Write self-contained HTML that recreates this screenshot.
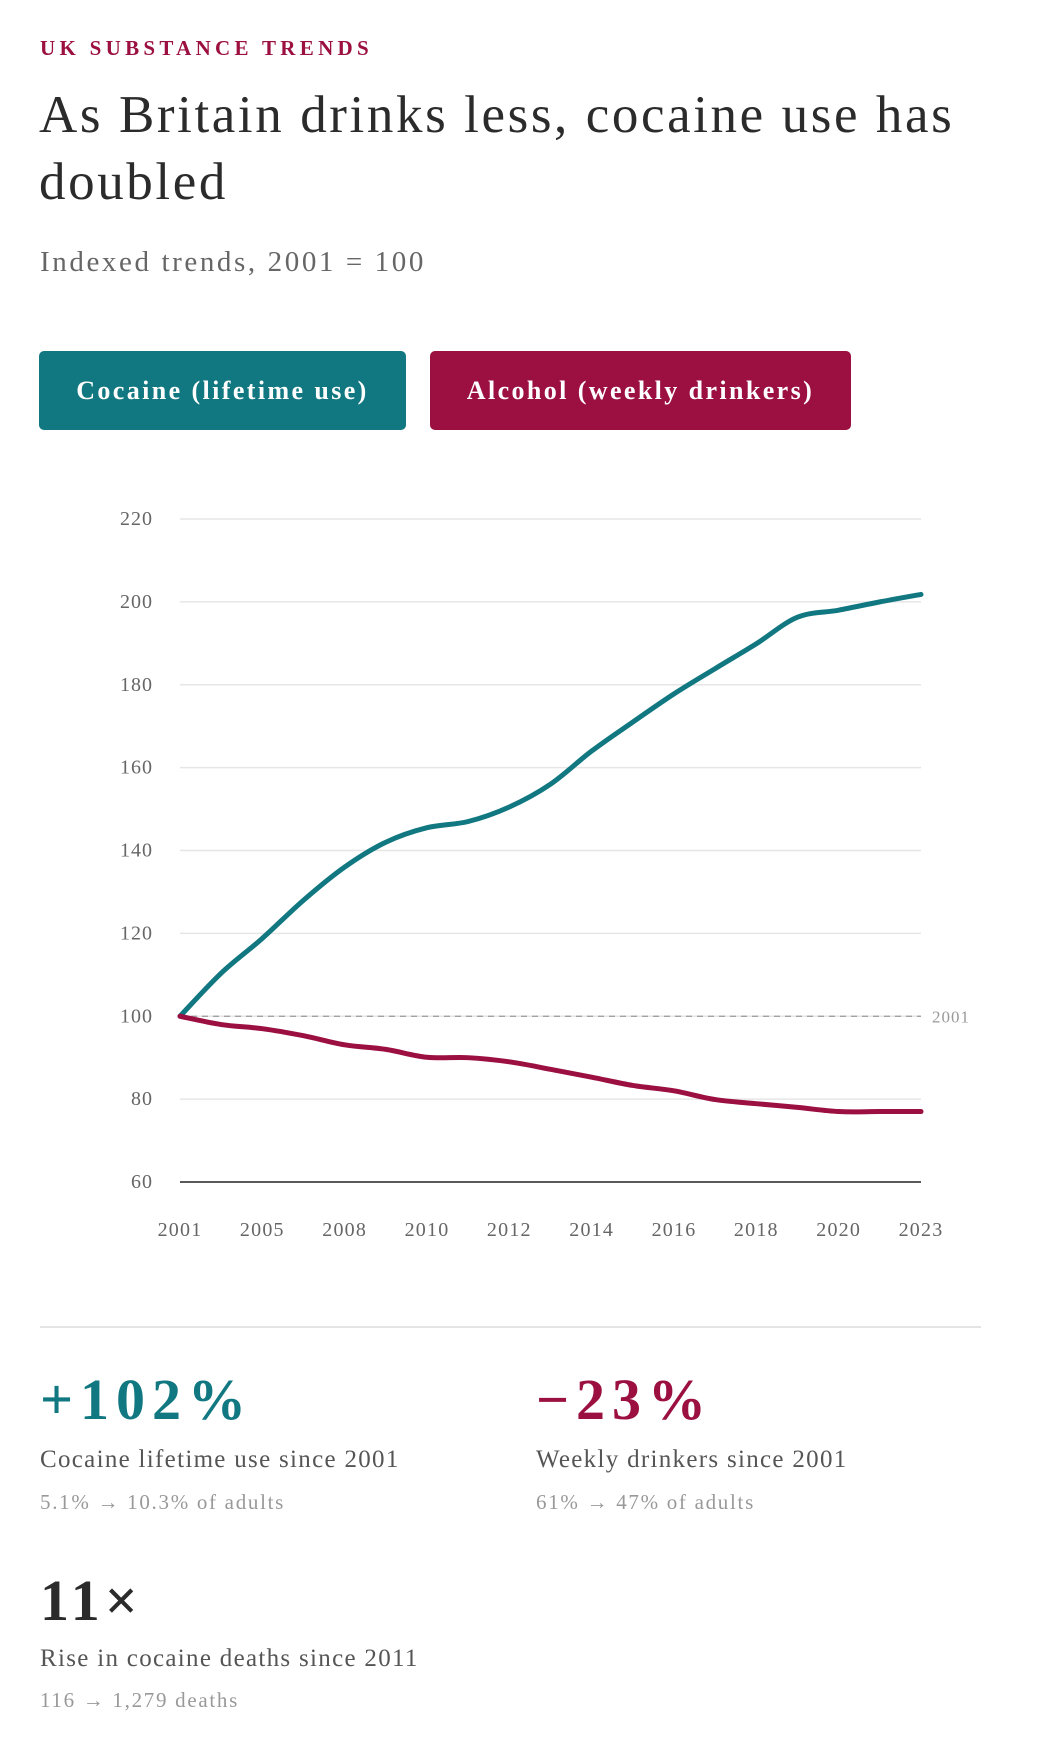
<!DOCTYPE html>
<html><head><meta charset="utf-8"><style>
body{margin:0;background:#fff;width:1052px;height:1744px;overflow:hidden;font-family:"Liberation Serif",serif;position:relative}
.a{position:absolute;white-space:nowrap}
</style></head><body>
<div class="a" style="left:40px;top:36px;font-size:21px;font-weight:bold;letter-spacing:4.3px;color:#9b1040">UK SUBSTANCE TRENDS</div>
<div class="a" style="left:39px;top:82px;font-size:53px;line-height:67px;letter-spacing:2.6px;color:#2b2b2b;white-space:normal;width:1000px">As Britain drinks less, cocaine use has doubled</div>
<div class="a" style="left:40px;top:246px;font-size:29px;letter-spacing:2.6px;color:#666">Indexed trends, 2001 = 100</div>
<div class="a" style="left:39px;top:351px;width:367px;height:79px;background:#117780;border-radius:5px;color:#fff;font-weight:bold;font-size:26px;letter-spacing:2.4px;line-height:79px;text-align:center">Cocaine (lifetime use)</div>
<div class="a" style="left:430px;top:351px;width:421px;height:79px;background:#9b1040;border-radius:5px;color:#fff;font-weight:bold;font-size:26px;letter-spacing:2.4px;line-height:79px;text-align:center">Alcohol (weekly drinkers)</div>
<svg class="a" style="left:0;top:0" width="1052" height="1290" id="chart"></svg>
<div class="a" style="left:40px;top:1326px;width:941px;height:2px;background:#e4e4e4"></div>
<div class="a" style="left:40px;top:1366px;font-size:58px;font-weight:bold;letter-spacing:7px;color:#117780">+102%</div>
<div class="a" style="left:40px;top:1446px;font-size:25px;letter-spacing:1.3px;color:#555">Cocaine lifetime use since 2001</div>
<div class="a" style="left:40px;top:1490px;font-size:21px;letter-spacing:1.7px;color:#999">5.1% → 10.3% of adults</div>
<div class="a" style="left:536px;top:1366px;font-size:58px;font-weight:bold;letter-spacing:7px;color:#9b1040">−23%</div>
<div class="a" style="left:536px;top:1446px;font-size:25px;letter-spacing:1.3px;color:#555">Weekly drinkers since 2001</div>
<div class="a" style="left:536px;top:1490px;font-size:21px;letter-spacing:1.7px;color:#999">61% → 47% of adults</div>
<div class="a" style="left:40px;top:1567px;font-size:58px;font-weight:bold;letter-spacing:5px;color:#2b2b2b">11×</div>
<div class="a" style="left:40px;top:1645px;font-size:25px;letter-spacing:1.3px;color:#555">Rise in cocaine deaths since 2011</div>
<div class="a" style="left:40px;top:1688px;font-size:21px;letter-spacing:1.7px;color:#999">116 → 1,279 deaths</div>
<script>
const years=["2001","2003","2005","2007","2008","2009","2010","2011","2012","2013","2014","2015","2016","2017","2018","2019","2020","2022","2023"];
const tickYears=["2001","2005","2008","2010","2012","2014","2016","2018","2020","2023"];
const yTicks=[60,80,100,120,140,160,180,200,220];
const cocaine=[100,110.4,118.8,128,136,142,145.5,147,150.5,156,164,171,177.8,183.9,189.9,196.3,198,200,201.8];
const alcohol=[100,98,97,95.3,93.1,92,90.1,90,89,87.2,85.3,83.3,82,79.9,78.9,78,77,77,77];
const NS="http://www.w3.org/2000/svg",svg=document.getElementById('chart');
const X0=180,X1=921,Y0=1182,Y1=519,VMIN=60,VMAX=220;
function xs(i){return X0+(X1-X0)*i/(years.length-1);}
function ys(v){return Y0-(v-VMIN)/(VMAX-VMIN)*(Y0-Y1);}
function mk(t,a){const e=document.createElementNS(NS,t);for(const k in a)e.setAttribute(k,a[k]);svg.appendChild(e);return e;}
yTicks.forEach(v=>{
const l=mk('line',{x1:X0,x2:X1,y1:ys(v),y2:ys(v),stroke:v===60?'#222':'#e6e6e6','stroke-width':1.5});


const t=mk('text',{x:153,y:ys(v)+6,'text-anchor':'end','font-size':20,'letter-spacing':1,fill:'#666','font-family':'Liberation Serif, serif'});
t.textContent=v;


});
tickYears.forEach(y=>{
const i=years.indexOf(y);
const t=mk('text',{x:xs(i),y:1236,'text-anchor':'middle','font-size':20,'letter-spacing':1.2,fill:'#666','font-family':'Liberation Serif, serif'});
t.textContent=y;


});
const bl=mk('line',{x1:X0,x2:X1,y1:ys(100),y2:ys(100),stroke:'#999','stroke-width':1.3,'stroke-dasharray':'6,5'});


const bt=mk('text',{x:932,y:ys(100)+6,'font-size':17,'letter-spacing':1,fill:'#999','font-family':'Liberation Serif, serif'});
bt.textContent='2001';


function path(vals){const p=vals.map((v,i)=>[xs(i),ys(v)]);let d='M'+p[0][0]+','+p[0][1];
for(let i=0;i<p.length-1;i++){const a=p[i-1]||p[i],b=p[i],c=p[i+1],e=p[i+2]||c;
d+=' C'+(b[0]+(c[0]-a[0])/6)+','+(b[1]+(c[1]-a[1])/6)+' '+(c[0]-(e[0]-b[0])/6)+','+(c[1]-(e[1]-b[1])/6)+' '+c[0]+','+c[1];}return d;}
const lc=mk('path',{d:path(cocaine),fill:'none',stroke:'#117780','stroke-width':5,'stroke-linecap':'round'});


const la=mk('path',{d:path(alcohol),fill:'none',stroke:'#9b1040','stroke-width':5,'stroke-linecap':'round'});


</script>
</body></html>
